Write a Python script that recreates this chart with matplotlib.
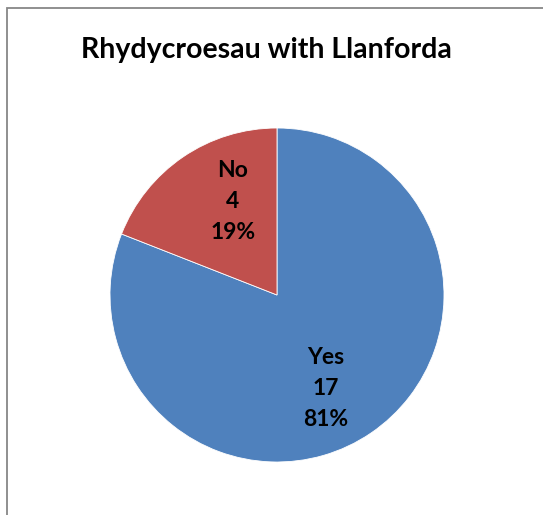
import matplotlib
matplotlib.use("Agg")
import matplotlib.pyplot as plt
from matplotlib.patches import Rectangle

# ── Data ──────────────────────────────────────────────────────────────
categories = ["Yes", "No"]
counts = [17, 4]
colors = ["#4F81BD", "#C0504D"]
title = "Rhydycroesau with Llanforda"

# label anchor points (axes data units, pie radius = 1)
label_xy = [(0.29, -0.56), (-0.265, 0.56)]

W, H = 543, 515
fig = plt.figure(figsize=(W / 100, H / 100), dpi=100)

# chart border (cropped at right/bottom like the source)
fig.patches.append(Rectangle((6.5 / W, -0.1), 1.2, 1.1 - 7.5 / H,
                             transform=fig.transFigure, fill=False,
                             edgecolor="#878787", linewidth=1.3))

# pie: centre (277, 295) px, radius 167 px
cx, cy, r = 277, 295, 167
ax = fig.add_axes([(cx - r) / W, (H - cy - r) / H, 2 * r / W, 2 * r / H])
ax.pie(counts, colors=colors, startangle=90, counterclock=False,
       radius=1, wedgeprops=dict(edgecolor="white", linewidth=0.6))
ax.set_xlim(-1, 1)
ax.set_ylim(-1, 1)
ax.set_aspect("equal")
ax.axis("off")

total = sum(counts)
for (x, y), cat, n in zip(label_xy, categories, counts):
    pct = round(100 * n / total)
    ax.text(x, y, f"{cat}\n{n}\n{pct}%", ha="center", va="center",
            fontsize=16.5, fontweight="bold", family=["Lato", "DejaVu Sans"],
            linespacing=1.6, color="black")

fig.text(266 / W, 1 - 50 / H, title, ha="center", va="center",
         fontsize=20.5, fontweight="bold", family=["Lato", "DejaVu Sans"])

fig.savefig("out.png", dpi=100)
